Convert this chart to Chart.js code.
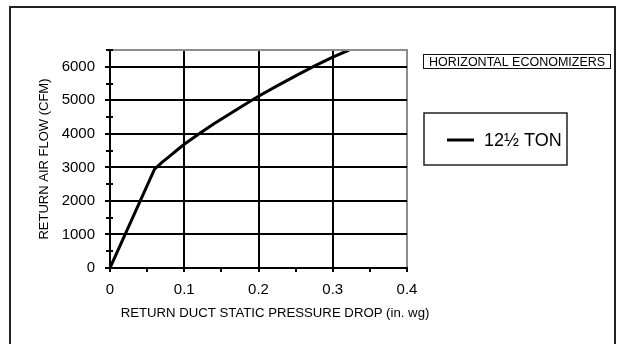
<!DOCTYPE html>
<html>
<head>
<meta charset="utf-8">
<script src="https://cdn.jsdelivr.net/npm/chart.js@4.4.1/dist/chart.umd.min.js"></script>
<style>
  html, body { margin: 0; padding: 0; background: #fff; }
  #wrap { position: relative; width: 618px; height: 344px; overflow: hidden; }
  #frame { position: absolute; left: 9px; top: 6px; width: 603px; height: 400px; border: 2px solid #222; }
  canvas { position: absolute; left: 0; top: 0; }
</style>
</head>
<body>
<div id="wrap">
  <div id="frame"></div>
  <canvas id="airflow" width="618" height="344"></canvas>
</div>
<script>
// return duct static pressure drop (in. wg) -> return air flow (CFM)
var pressure = [0, 0.06, 0.07, 0.08, 0.09, 0.1, 0.12, 0.14, 0.16, 0.18, 0.2, 0.225, 0.25, 0.275, 0.3, 0.322];
var airflow  = [0, 2950, 3150, 3330, 3510, 3690, 4000, 4300, 4580, 4850, 5120, 5430, 5730, 6020, 6290, 6500];

var xTicks = [0, 0.1, 0.2, 0.3, 0.4];
var yTicks = [0, 1000, 2000, 3000, 4000, 5000, 6000];
var xMinor = [0.05, 0.15, 0.25, 0.35];
var yMinor = [500, 1500, 2500, 3500, 4500, 5500, 6500];

var seriesName = '12\u00bd TON';
var boxTitle = 'HORIZONTAL ECONOMIZERS';
var xCaption = 'RETURN DUCT STATIC PRESSURE DROP (in. wg)';
var yCaption = 'RETURN AIR FLOW (CFM)';

var FONT = "'Liberation Sans', Arial, sans-serif";

var points = pressure.map(function (p, i) { return { x: p, y: airflow[i] }; });

// minor ticks, plot edge, caption and the two boxes on the right
var extras = {
  id: 'extras',
  afterDraw: function (chart) {
    var ctx = chart.ctx, a = chart.chartArea;
    var xs = chart.scales.x, ys = chart.scales.y;
    ctx.save();

    ctx.strokeStyle = '#8c8c8c';
    ctx.lineWidth = 2;
    ctx.beginPath();
    ctx.moveTo(a.left, a.top);
    ctx.lineTo(a.right + 1, a.top);
    ctx.stroke();

    ctx.strokeStyle = '#000';
    ctx.lineWidth = 2;
    ctx.beginPath();
    yMinor.forEach(function (v) {
      var py = Math.round(ys.getPixelForValue(v));
      ctx.moveTo(a.left - 4, py);
      ctx.lineTo(a.left + 3, py);
    });
    xMinor.forEach(function (v) {
      var px = Math.round(xs.getPixelForValue(v));
      ctx.moveTo(px, a.bottom);
      ctx.lineTo(px, a.bottom + 4);
    });
    ctx.stroke();

    ctx.fillStyle = '#000';
    ctx.font = '13.2px ' + FONT;
    ctx.textAlign = 'center';
    ctx.textBaseline = 'middle';
    ctx.fillText(xCaption, 275, 313);

    // header box
    ctx.lineWidth = 1;
    ctx.strokeStyle = '#111';
    ctx.strokeRect(423.5, 54.5, 187, 14);
    ctx.font = '12.5px ' + FONT;
    ctx.textAlign = 'left';
    ctx.textBaseline = 'alphabetic';
    ctx.fillText(boxTitle, 429, 66);

    // series key
    var ds = chart.data.datasets[0];
    ctx.lineWidth = 1.5;
    ctx.strokeStyle = '#222';
    ctx.strokeRect(424, 113, 143, 52);
    ctx.strokeStyle = ds.borderColor;
    ctx.lineWidth = ds.borderWidth;
    ctx.beginPath();
    ctx.moveTo(447, 140);
    ctx.lineTo(474, 140);
    ctx.stroke();
    ctx.font = '18px ' + FONT;
    ctx.textBaseline = 'middle';
    ctx.fillText(ds.label, 484, 141);

    ctx.restore();
  }
};

new Chart(document.getElementById('airflow'), {
  type: 'line',
  data: {
    datasets: [{
      label: seriesName,
      data: points,
      borderColor: '#000',
      borderWidth: 3,
      pointRadius: 0,
      tension: 0,
      fill: false
    }]
  },
  options: {
    responsive: false,
    animation: false,
    layout: { padding: { left: 0, top: 50, right: 211, bottom: 0 } },
    plugins: {
      legend: { display: false },
      tooltip: { enabled: false }
    },
    scales: {
      x: {
        type: 'linear',
        min: 0,
        max: 0.4,
        afterBuildTicks: function (s) { s.ticks = xTicks.map(function (v) { return { value: v }; }); },
        afterFit: function (s) { s.height = 76; },
        ticks: {
          color: '#000',
          font: { family: FONT, size: 15 },
          padding: 9,
          maxRotation: 0,
          callback: function (v) { return String(v); }
        },
        grid: {
          color: function (c) { return c.tick && c.tick.value === 0.4 ? '#8c8c8c' : '#000'; },
          tickColor: '#000',
          lineWidth: 2,
          tickLength: 4
        },
        border: { display: true, color: '#000', width: 2 }
      },
      y: {
        type: 'linear',
        min: 0,
        max: 6500,
        afterBuildTicks: function (s) { s.ticks = yTicks.map(function (v) { return { value: v }; }); },
        afterFit: function (s) { s.width = 110; },
        ticks: {
          color: '#000',
          font: { family: FONT, size: 15 },
          padding: 10,
          callback: function (v) { return String(v); }
        },
        grid: { color: '#000', lineWidth: 2, tickLength: 5 },
        border: { display: true, color: '#000', width: 2 },
        title: {
          display: true,
          text: yCaption,
          color: '#000',
          font: { family: FONT, size: 13 },
          padding: { top: 37, bottom: 0 }
        }
      }
    }
  },
  plugins: [extras]
});
</script>
</body>
</html>
